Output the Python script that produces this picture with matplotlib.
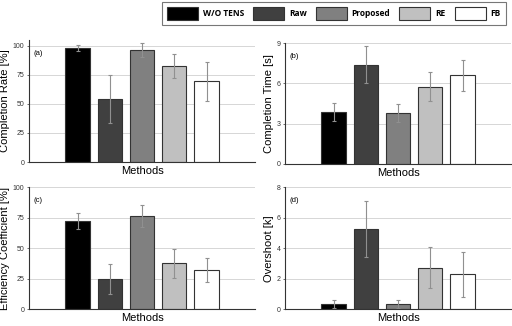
import numpy as np
import matplotlib
matplotlib.use("Agg")
import matplotlib.pyplot as plt

methods = ["W/O TENS", "Raw", "Proposed", "RE", "FB"]
colors = ["#000000", "#404040", "#808080", "#c0c0c0", "#ffffff"]

completion_rate = [98.5, 54.5, 96.5, 83.0, 69.5]
completion_rate_err = [2.5, 20.5, 6.3, 10.3, 17.0]

completion_time = [3.85, 7.4, 3.8, 5.75, 6.6]
completion_time_err = [0.67, 1.4, 0.67, 1.1, 1.15]

efficiency = [72.5, 24.7, 76.4, 37.5, 32.0]
efficiency_err = [6.8, 12.0, 8.8, 11.8, 9.8]

overshoot = [0.35, 5.27, 0.33, 2.72, 2.28]
overshoot_err = [0.27, 1.85, 0.29, 1.33, 1.46]

panels = [
    ("(a)", "Completion Rate [%]", completion_rate, completion_rate_err, (0, 105), [0, 25, 50, 75, 100]),
    ("(b)", "Completion Time [s]", completion_time, completion_time_err, (0, 9), [0, 3, 6, 9]),
    ("(c)", "Efficiency Coefficient [%]", efficiency, efficiency_err, (0, 100), [0, 25, 50, 75, 100]),
    ("(d)", "Overshoot [k]", overshoot, overshoot_err, (0, 8), [0, 2, 4, 6, 8]),
]

# axes boxes in figure fractions [left, bottom, width, height]
boxes = [
    [0.057, 0.503, 0.441, 0.374],
    [0.557, 0.497, 0.441, 0.371],
    [0.057, 0.052, 0.441, 0.373],
    [0.557, 0.052, 0.441, 0.373],
]

plt.rcParams['font.family'] = ['Liberation Sans', 'DejaVu Sans']

fig = plt.figure(figsize=(5.12, 3.26), dpi=100)
x = np.arange(len(methods))

for box, (tag, ylabel, vals, errs, ylim, yticks) in zip(boxes, panels):
    ax = fig.add_axes(box)
    ax.set_axisbelow(True)
    ax.yaxis.grid(True, color="#d0d0d0", lw=0.6)
    ax.bar(x, vals, width=0.75, color=colors, edgecolor="#333333", linewidth=0.8,
           yerr=errs, error_kw=dict(ecolor="#909090", elinewidth=0.8, capsize=1.5, capthick=0.8))
    ax.set_xlim(-1.5, 5.5)
    ax.set_ylim(*ylim)
    ax.set_yticks(yticks)
    ax.set_xticks([])
    ax.tick_params(axis='y', labelsize=5, length=1.5, width=0.5, pad=2, colors="#333333")
    for s in ["top", "right"]:
        ax.spines[s].set_visible(False)
    for s in ["left", "bottom"]:
        ax.spines[s].set_color("#333333")
        ax.spines[s].set_linewidth(0.8)
    ax.set_ylabel(ylabel, fontsize=8, labelpad=2)
    ax.set_xlabel("Methods", fontsize=8, labelpad=3)
    ax.text(0.02, 0.92, tag, transform=ax.transAxes, fontsize=5.5, va="top", ha="left")

handles = [plt.Rectangle((0, 0), 1, 1, facecolor=c, edgecolor="#333333", lw=0.8) for c in colors]
leg = fig.legend(handles, methods, loc="upper left", bbox_to_anchor=(0.316, 0.995), ncol=5,
                 prop={'family': ['Open Sans', 'DejaVu Sans'], 'weight': 'bold', 'size': 6},
                 frameon=True, fancybox=False, edgecolor="#555555", handlelength=3.7, handleheight=2.0,
                 columnspacing=1.1, handletextpad=0.6, borderpad=0.6, borderaxespad=0)
leg.get_frame().set_linewidth(0.8)

fig.savefig("out.png", dpi=100)
